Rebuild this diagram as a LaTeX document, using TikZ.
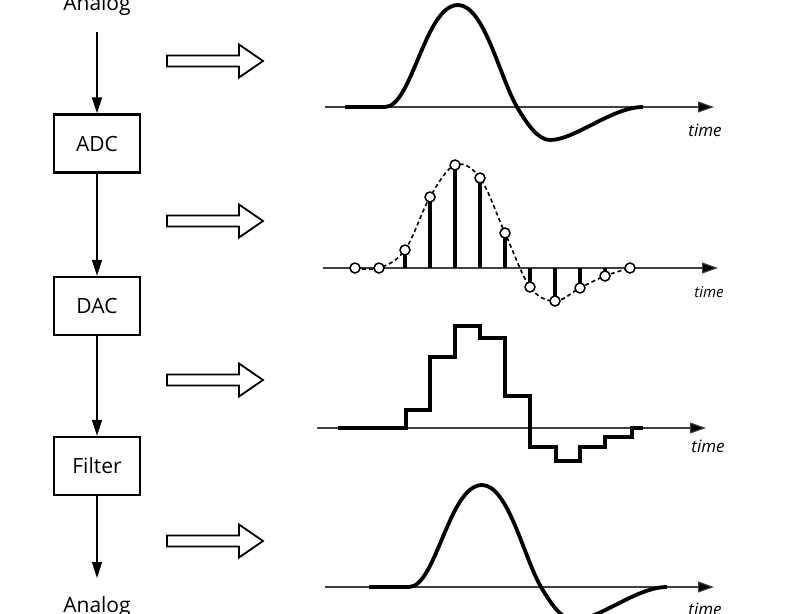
\documentclass[tikz,border=0pt]{standalone}
\usepackage{fontspec}
\setmainfont{Open Sans}
\usetikzlibrary{arrows.meta}
\tikzset{
  blockbox/.style={draw, line width=2.4pt, minimum width=86pt, minimum height=58pt, inner sep=0pt, font=\fontsize{21}{24}\selectfont},
  flowarrow/.style={line width=1.6pt, -{Triangle[length=16pt,width=10pt]}},
  axisline/.style={line width=1.1pt, draw=black!75, -{Triangle[length=16pt,width=11pt,fill=black]}},
  signal/.style={line width=3.8pt, line join=round},
  stem/.style={line width=3.2pt},
  sampledot/.style={circle, draw, fill=white, line width=1.5pt, minimum size=10pt, inner sep=0pt},
  hollowline/.style={draw, line width=1.8pt, fill=white, line join=miter},
  labeltext/.style={font=\fontsize{21}{24}\selectfont, anchor=base},
  timetext/.style={font=\fontsize{17}{20}\selectfont\itshape, anchor=base},
  hollowarrow/.pic={\path[hollowline] (0,-5.5) -- (72,-5.5) -- (72,-16.5) -- (96,0) -- (72,16.5) -- (72,5.5) -- (0,5.5) -- cycle;}
}
\begin{document}
\begin{tikzpicture}[x=1pt,y=-1pt]
\useasboundingbox (0,0) rectangle (791,613);
\clip (0,0) rectangle (791,613);

% left chain
\node[labeltext] (ain) at (97,10) {Analog};
\node[blockbox] (adc) at (97,143.5) {ADC};
\node[blockbox] (dac) at (97,306) {DAC};
\node[blockbox] (flt) at (97,466) {Filter};
\node[labeltext] (aout) at (97,612) {Analog};
\coordinate (instart) at (97,32);
\coordinate (outend) at (97,578);
\draw[flowarrow] (instart) -- (adc.north);
\draw[flowarrow] (adc.south) -- (dac.north);
\draw[flowarrow] (dac.south) -- (flt.north);
\draw[flowarrow] (flt.south) -- (outend);

% hollow arrows
\pic at (167,61) {hollowarrow};
\pic at (167,221) {hollowarrow};
\pic at (167,380) {hollowarrow};
\pic at (167,541) {hollowarrow};

% plot 1: analog
\coordinate (a1s) at (325,107);
\coordinate (a1e) at (714,107);
\draw[axisline] (a1s) -- (a1e);
\draw[signal] (345,107) -- (385,107)
  .. controls (412,107) and (425,5) .. (458,5)
  .. controls (484,5) and (500,78) .. (517,107)
  .. controls (527,124) and (538,140) .. (550,140)
  .. controls (575,140) and (612,107) .. (643,107);
\node[timetext] (t1) at (705,136) {time};

% plot 2: samples
\coordinate (a2s) at (323,268);
\coordinate (a2e) at (718,268);
\draw[axisline] (a2s) -- (a2e);
\draw[line width=1.6pt, dash pattern=on 4pt off 3pt] plot[smooth, tension=0.6] coordinates {
  (355,268) (379,268) (405,250) (430,197) (455,165) (480,178) (505,233)
  (530,287) (555,301) (580,288) (605,276) (630,268)};
\foreach \x/\y in {405/250,430/197,455/165,480/178,505/233,530/287,555/301,580/288,605/276}{
  \draw[stem] (\x,268) -- (\x,\y);
}
\foreach \x/\y [count=\i] in {355/268,379/268,405/250,430/197,455/165,480/178,505/233,530/287,555/301,580/288,605/276,630/268}{
  \node[sampledot] (s\i) at (\x,\y) {};
}
\node[timetext, font=\fontsize{15}{18}\selectfont\itshape] (t2) at (709,297) {time};

% plot 3: staircase
\coordinate (a3s) at (317,428);
\coordinate (a3e) at (706,428);
\draw[axisline] (a3s) -- (a3e);
\draw[signal, line join=miter] (338,428) -- (406,428) -- (406,410) -- (430,410) -- (430,357)
  -- (455,357) -- (455,326) -- (480,326) -- (480,338) -- (505,338) -- (505,396)
  -- (530,396) -- (530,447) -- (556,447) -- (556,461) -- (580,461) -- (580,447)
  -- (605,447) -- (605,437) -- (632,437) -- (632,428) -- (643,428);
\node[timetext] (t3) at (708,452) {time};

% plot 4: filtered analog
\coordinate (a4s) at (325,587);
\coordinate (a4e) at (714,587);
\draw[axisline] (a4s) -- (a4e);
\begin{scope}[shift={(24,480)}]
\draw[signal] (345,107) -- (385,107)
  .. controls (412,107) and (425,5) .. (458,5)
  .. controls (484,5) and (500,78) .. (517,107)
  .. controls (527,124) and (538,140) .. (550,140)
  .. controls (575,140) and (612,107) .. (643,107);
\end{scope}
\node[timetext] (t4) at (705,615) {time};
\end{tikzpicture}
\end{document}
